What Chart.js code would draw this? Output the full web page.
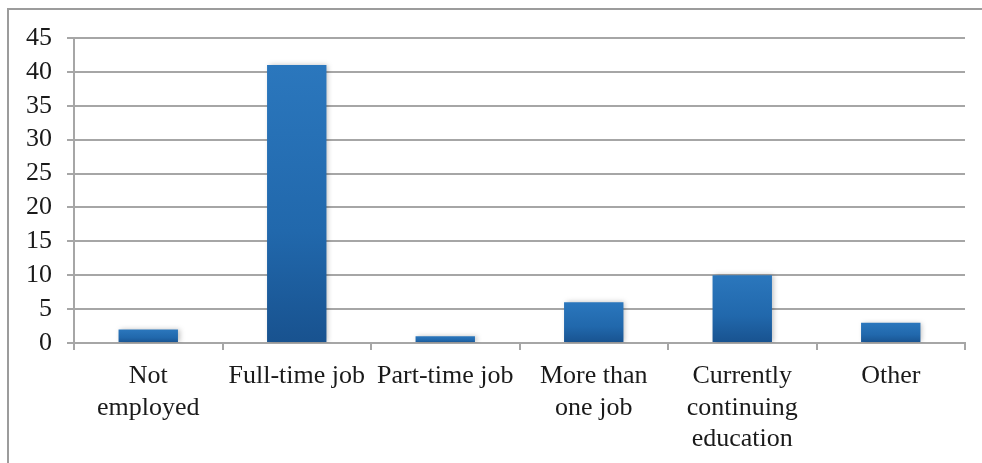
<!DOCTYPE html>
<html>
<head>
<meta charset="utf-8">
<script src="https://cdn.jsdelivr.net/npm/chart.js@4.4.1/dist/chart.umd.min.js"></script>
<style>
html,body{margin:0;padding:0;background:#fff;}
#wrap{width:982px;height:463px;position:relative;}
</style>
</head>
<body>
<div id="wrap"><canvas id="c" width="982" height="463"></canvas></div>
<script>
const categories = [["Not","employed"], "Full-time job", "Part-time job", ["More than","one job"], ["Currently","continuing","education"], "Other"];
const values = [2, 41, 1, 6, 10, 3];
const yMin = 0, yMax = 45, yStep = 5;

const frame = {
  id: 'frame',
  beforeDraw(chart) {
    const c = chart.ctx;
    c.save();
    c.strokeStyle = '#9c9c9c';
    c.lineWidth = 2;
    c.beginPath();
    c.moveTo(8, chart.height);
    c.lineTo(8, 9);
    c.lineTo(chart.width, 9);
    c.stroke();
    c.restore();
  }
};
const shadow = {
  id: 'shadow',
  beforeDatasetsDraw(chart) {
    const c = chart.ctx;
    c.save();
    c.shadowColor = 'rgba(0,0,0,0.25)';
    c.shadowBlur = 5;
    c.shadowOffsetX = 2;
    c.shadowOffsetY = 0;
  },
  afterDatasetsDraw(chart) { chart.ctx.restore(); }
};

function barGradient(context) {
  const chart = context.chart;
  if (!chart.chartArea || context.raw === undefined) return '#2470b5';
  const y = chart.scales.y;
  const top = y.getPixelForValue(context.raw);
  const bot = y.getPixelForValue(0);
  if (!isFinite(top) || top === bot) return '#2470b5';
  const g = chart.ctx.createLinearGradient(0, top, 0, bot);
  g.addColorStop(0, '#2b77bd');
  g.addColorStop(0.6, '#2168ac');
  g.addColorStop(1, '#18528f');
  return g;
}

Chart.defaults.font.family = '"Liberation Serif", "Times New Roman", serif';
Chart.defaults.font.size = 26;
Chart.defaults.color = '#1a1a1a';

new Chart(document.getElementById('c'), {
  type: 'bar',
  data: {
    labels: categories,
    datasets: [{
      data: values,
      backgroundColor: barGradient,
      barPercentage: 0.4,
      categoryPercentage: 1.0,
      borderWidth: 0
    }]
  },
  options: {
    responsive: false,
    animation: false,
    events: [],
    layout: { padding: { left: 0, top: 38, right: 17, bottom: 0 } },
    plugins: { legend: { display: false }, tooltip: { enabled: false } },
    scales: {
      x: {
        grid: { drawOnChartArea: false, drawTicks: true, tickLength: 7, color: '#a6a6a6', lineWidth: 2, offset: true },
        border: { color: '#a6a6a6', width: 2 },
        ticks: { autoSkip: false, maxRotation: 0, minRotation: 0, padding: 11, font: { size: 26, lineHeight: 1.2 }, color: '#1a1a1a' },
        afterFit(s) { s.height = 120; }
      },
      y: {
        min: yMin, max: yMax,
        grid: { color: '#a6a6a6', lineWidth: 2, tickLength: 7 },
        border: { color: '#a6a6a6', width: 2 },
        ticks: { stepSize: yStep, autoSkip: false, padding: 15, font: { size: 26 }, color: '#1a1a1a' },
        afterFit(s) { s.width = 74; }
      }
    }
  },
  plugins: [frame, shadow]
});
</script>
</body>
</html>
